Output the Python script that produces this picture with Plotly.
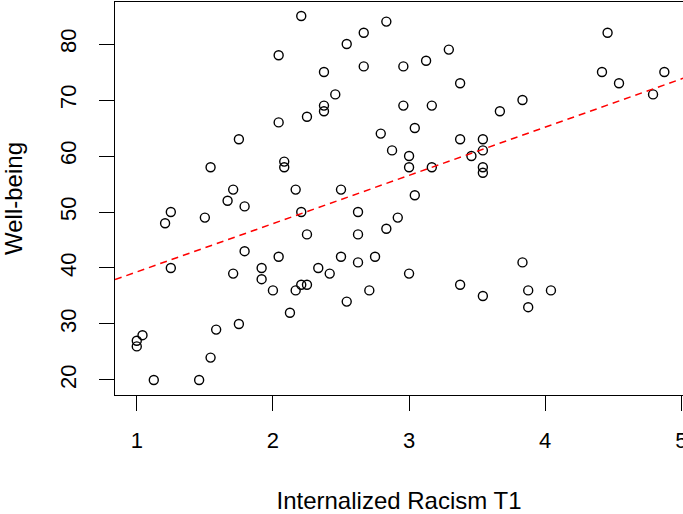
import numpy as np
import plotly.graph_objects as go

# Internalized Racism T1 (x) and Well-being (y)
racism_t1 = [
    2.208, 2.042, 2.25, 2.042, 1.75, 1.542, 2.083, 2.083, 1.708, 2.167,
    1.667, 2.833, 2.667, 2.542, 3.292, 3.125, 2.375, 2.667, 2.958, 3.375,
    2.458, 2.375, 2.375, 2.958, 3.167, 3.667, 3.042, 2.792, 3.375, 3.542,
    2.875, 3.542, 3.458, 3.0, 3.0, 3.167, 3.542, 3.542, 2.5, 4.458,
    4.417, 4.875, 4.542, 4.792, 3.833, 1.792, 1.25, 1.208, 1.5, 2.208,
    1.792, 2.042, 1.25, 1.708, 1.917, 1.917, 2.0, 2.167, 2.208, 2.25,
    2.125, 1.75, 1.583, 1.042, 1.0, 1.0, 1.542, 1.125, 1.458, 3.042,
    2.625, 2.917, 2.833, 2.625, 2.25, 2.5, 2.625, 2.75, 2.333, 2.417,
    3.0, 2.542, 2.708, 3.375, 3.542, 3.833, 3.875, 4.042, 3.875,
]
well_being = [
    85, 78, 67, 66, 63, 58, 59, 58, 54, 54,
    52, 84, 82, 80, 79, 77, 75, 76, 76, 73,
    71, 69, 68, 69, 69, 68, 65, 64, 63, 63,
    61, 61, 60, 60, 58, 58, 58, 57, 54, 82,
    75, 75, 73, 71, 70, 51, 50, 48, 49, 50,
    43, 42, 40, 39, 40, 38, 36, 36, 37, 37,
    32, 30, 29, 28, 27, 26, 24, 20, 20, 53,
    50, 49, 47, 46, 46, 42, 41, 42, 40, 39,
    39, 34, 36, 37, 35, 41, 36, 36, 33,
]
x_ticks = [1, 2, 3, 4, 5]
y_ticks = [20, 30, 40, 50, 60, 70, 80]

x_range = [0.840, 5.012]
y_range = [17.32, 87.5]

slope, intercept = np.polyfit(racism_t1, well_being, 1)
line_x = np.array(x_range)
line_y = intercept + slope * line_x

FONT = "Liberation Sans, Arial, sans-serif"

fig = go.Figure()
fig.add_trace(go.Scatter(
    x=racism_t1, y=well_being, mode="markers",
    marker=dict(symbol="circle-open", size=9, color="black", line=dict(width=1.4, color="black")),
    showlegend=False, hoverinfo="skip", cliponaxis=False,
))
fig.add_trace(go.Scatter(
    x=line_x, y=line_y, mode="lines",
    line=dict(color="red", width=1.5, dash="7px,5px"),
    showlegend=False, hoverinfo="skip",
))

fig.update_layout(
    width=683, height=514,
    margin=dict(l=115, r=0, t=2, b=119, pad=0),
    paper_bgcolor="white", plot_bgcolor="white",
    font=dict(family=FONT, color="black", size=22),
    xaxis=dict(
        range=x_range, tickvals=x_ticks, ticktext=[str(v) for v in x_ticks],
        automargin=False, ticklabeloverflow="allow",
        showgrid=False, zeroline=False, showline=True, linecolor="black", linewidth=1.3,
        mirror=True, ticks="outside", ticklen=15, tickwidth=1.3, tickcolor="black",
        ticklabelstandoff=10,
        tickfont=dict(size=22, family=FONT),
        title=dict(text="Internalized Racism T1", font=dict(size=24, family=FONT), standoff=40),
    ),
    yaxis=dict(
        range=y_range, tickvals=y_ticks, ticktext=[str(v) for v in y_ticks],
        automargin=False, ticklabeloverflow="allow",
        showgrid=False, zeroline=False, showline=True, linecolor="black", linewidth=1.3,
        mirror=False, ticks="outside", ticklen=15, tickwidth=1.3, tickcolor="black",
        tickangle=-90, ticklabelstandoff=14,
        tickfont=dict(size=22, family=FONT),
        title=dict(text="Well-being", font=dict(size=24, family=FONT), standoff=34),
    ),
)

fig.write_html(
    "out.html",
    config={"displayModeBar": False},
    post_script="document.body.style.margin='0px';document.body.style.overflow='hidden';",
)
